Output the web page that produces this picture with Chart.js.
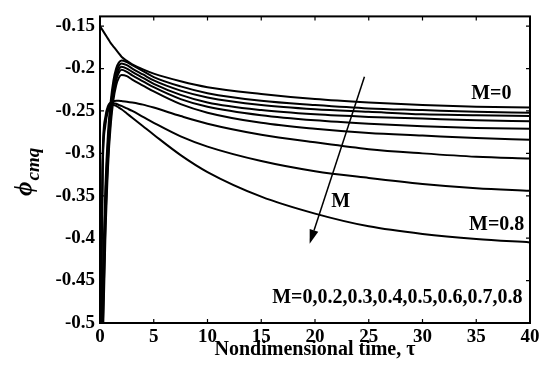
<!DOCTYPE html>
<html>
<head>
<meta charset="utf-8">
<script src="https://cdn.jsdelivr.net/npm/chart.js@4.4.0/dist/chart.umd.min.js"></script>
<style>
  body { margin: 0; background: #fff; }
  canvas { display: block; }
</style>
</head>
<body>
<canvas id="phi" width="545" height="367"></canvas>
<script>
// nondimensional time samples
const tau = [0, 0.25, 0.5, 0.75, 1, 1.25, 1.5, 1.75, 2, 2.5, 3, 4, 5, 7.5, 10, 15, 20, 25, 30, 35, 40];

// phi_cmq curves
const phiM0  = [-0.150, -0.155, -0.160, -0.165, -0.170, -0.174, -0.178, -0.182, -0.186, -0.191, -0.195, -0.201, -0.206, -0.215, -0.222, -0.230, -0.236, -0.240, -0.243, -0.245, -0.246];
const phiM02 = [-0.62, -0.45, -0.34, -0.275, -0.238, -0.214, -0.200, -0.193, -0.1905, -0.1925, -0.196, -0.203, -0.210, -0.221, -0.229, -0.238, -0.243, -0.247, -0.249, -0.251, -0.252];
const phiM03 = [-0.64, -0.47, -0.355, -0.285, -0.245, -0.220, -0.205, -0.197, -0.194, -0.196, -0.200, -0.207, -0.214, -0.226, -0.234, -0.243, -0.248, -0.251, -0.254, -0.255, -0.256];
const phiM04 = [-0.66, -0.49, -0.37, -0.295, -0.252, -0.226, -0.210, -0.201, -0.198, -0.200, -0.204, -0.211, -0.218, -0.231, -0.240, -0.249, -0.254, -0.257, -0.259, -0.261, -0.262];
const phiM05 = [-0.68, -0.51, -0.385, -0.305, -0.259, -0.231, -0.214, -0.205, -0.2015, -0.204, -0.208, -0.215, -0.222, -0.236, -0.245, -0.255, -0.261, -0.265, -0.268, -0.270, -0.271];
const phiM06 = [-0.70, -0.53, -0.40, -0.315, -0.266, -0.237, -0.220, -0.211, -0.2077, -0.209, -0.213, -0.220, -0.227, -0.242, -0.252, -0.264, -0.271, -0.276, -0.279, -0.282, -0.284];
const phiM07a = [-0.56, -0.30, -0.257, -0.244, -0.240, -0.2385, -0.238, -0.238, -0.2383, -0.239, -0.240, -0.2425, -0.246, -0.256, -0.265, -0.278, -0.287, -0.295, -0.300, -0.304, -0.306];
const phiM07 = [-0.58, -0.31, -0.262, -0.247, -0.242, -0.241, -0.2415, -0.243, -0.244, -0.247, -0.250, -0.257, -0.264, -0.280, -0.292, -0.309, -0.321, -0.329, -0.336, -0.341, -0.344];
const phiM08 = [-0.60, -0.32, -0.267, -0.250, -0.244, -0.243, -0.244, -0.246, -0.248, -0.253, -0.258, -0.268, -0.278, -0.302, -0.322, -0.351, -0.371, -0.386, -0.395, -0.401, -0.405];

const seriesNames = ['M=0', 'M=0.2', 'M=0.3', 'M=0.4', 'M=0.5', 'M=0.6', 'M=0.65', 'M=0.7', 'M=0.8'];
const seriesData = [phiM0, phiM02, phiM03, phiM04, phiM05, phiM06, phiM07a, phiM07, phiM08];

const xTicks = [0, 5, 10, 15, 20, 25, 30, 35, 40];
const yTicks = [-0.5, -0.45, -0.4, -0.35, -0.3, -0.25, -0.2, -0.15];

const serif = '"Liberation Serif", "Times New Roman", serif';

// box with inward ticks, axis label with subscript, arrow and notes
const extras = {
  id: 'extras',
  afterDraw(chart) {
    const ctx = chart.ctx;
    const a = chart.chartArea;
    const xs = chart.scales.x, ys = chart.scales.y;
    ctx.save();
    ctx.strokeStyle = '#000';
    ctx.lineWidth = 2;
    ctx.strokeRect(a.left, a.top, a.right - a.left, a.bottom - a.top);
    ctx.lineWidth = 1.2;
    ctx.beginPath();
    xTicks.forEach(v => {
      const px = xs.getPixelForValue(v);
      ctx.moveTo(px, a.bottom); ctx.lineTo(px, a.bottom - 4);
      ctx.moveTo(px, a.top); ctx.lineTo(px, a.top + 4);
    });
    yTicks.forEach(v => {
      const py = ys.getPixelForValue(v);
      ctx.moveTo(a.left, py); ctx.lineTo(a.left + 4, py);
      ctx.moveTo(a.right, py); ctx.lineTo(a.right - 4, py);
    });
    ctx.stroke();

    // arrow showing increasing M
    const x1 = xs.getPixelForValue(24.6), y1 = ys.getPixelForValue(-0.2096);
    const x2 = xs.getPixelForValue(19.5), y2 = ys.getPixelForValue(-0.4065);
    const ang = Math.atan2(y2 - y1, x2 - x1);
    const hl = 14, hw = 4.5;
    const bx = x2 - hl * Math.cos(ang), by = y2 - hl * Math.sin(ang);
    ctx.lineWidth = 1.5;
    ctx.beginPath();
    ctx.moveTo(x1, y1); ctx.lineTo(bx, by);
    ctx.stroke();
    ctx.fillStyle = '#000';
    ctx.beginPath();
    ctx.moveTo(x2, y2);
    ctx.lineTo(bx + hw * Math.sin(ang), by - hw * Math.cos(ang));
    ctx.lineTo(bx - hw * Math.sin(ang), by + hw * Math.cos(ang));
    ctx.closePath();
    ctx.fill();

    // notes
    ctx.font = 'bold 20px ' + serif;
    ctx.textBaseline = 'middle';
    ctx.textAlign = 'center';
    ctx.fillText('M=0', xs.getPixelForValue(36.4), ys.getPixelForValue(-0.2295));
    ctx.fillText('M=0.8', xs.getPixelForValue(36.9), ys.getPixelForValue(-0.3845));
    ctx.fillText('M', xs.getPixelForValue(22.4), ys.getPixelForValue(-0.3575));
    ctx.textAlign = 'right';
    ctx.fillText('M=0,0.2,0.3,0.4,0.5,0.6,0.7,0.8', xs.getPixelForValue(39.3), ys.getPixelForValue(-0.4705));

    // y axis label: phi with subscript cmq
    ctx.save();
    ctx.translate(32, 196);
    ctx.rotate(-Math.PI / 2);
    ctx.textAlign = 'left';
    ctx.textBaseline = 'alphabetic';
    ctx.font = 'italic bold 25px ' + serif;
    ctx.fillText('\u03d5', 0, 0);
    const w = ctx.measureText('\u03d5').width;
    ctx.font = 'italic bold 19px ' + serif;
    ctx.fillText('cmq', w + 1, 7);
    ctx.restore();
    ctx.restore();
  }
};

new Chart(document.getElementById('phi'), {
  type: 'line',
  data: {
    datasets: seriesData.map((arr, i) => ({
      label: seriesNames[i],
      data: tau.map((t, k) => ({ x: t, y: arr[k] })),
      borderColor: '#000',
      borderWidth: 2,
      pointRadius: 0,
      fill: false,
      cubicInterpolationMode: 'monotone'
    }))
  },
  options: {
    responsive: false,
    animation: false,
    devicePixelRatio: 1,
    layout: { padding: { left: 0, top: 8, right: 15, bottom: 0 } },
    plugins: { legend: { display: false }, tooltip: { enabled: false } },
    scales: {
      x: {
        type: 'linear',
        min: 0,
        max: 40,
        grid: { display: false, drawTicks: false },
        border: { display: false },
        afterBuildTicks: s => { s.ticks = xTicks.map(v => ({ value: v })); },
        afterFit: s => { s.height = 44; },
        ticks: {
          padding: 3,
          color: '#000',
          font: { family: serif, size: 19, weight: 'bold' },
          callback: v => String(v)
        },
        title: {
          display: true,
          text: 'Nondimensional time, \u03c4',
          color: '#000',
          font: { family: serif, size: 20, weight: 'bold' },
          padding: { top: 0, bottom: 5 }
        }
      },
      y: {
        min: -0.5,
        max: -0.1385,
        grid: { display: false, drawTicks: false },
        border: { display: false },
        afterBuildTicks: s => { s.ticks = yTicks.map(v => ({ value: v })); },
        afterFit: s => { s.width = 100; },
        ticks: {
          padding: 5,
          color: '#000',
          font: { family: serif, size: 19, weight: 'bold' },
          callback: v => String(v)
        }
      }
    }
  },
  plugins: [extras]
});
</script>
</body>
</html>
